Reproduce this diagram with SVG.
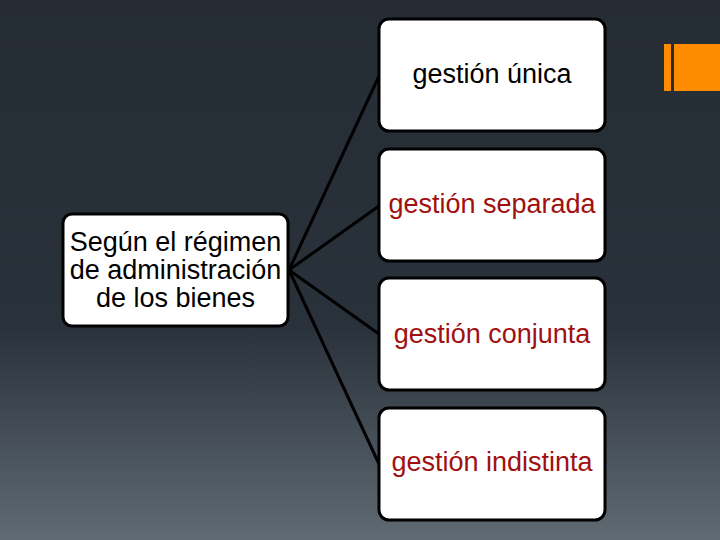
<svg xmlns="http://www.w3.org/2000/svg" width="720" height="540" viewBox="0 0 720 540">
<defs>
<linearGradient id="bg" x1="0" y1="0" x2="0" y2="1">
<stop offset="0" stop-color="#252c34"/>
<stop offset="0.6" stop-color="#29313a"/>
<stop offset="1" stop-color="#5f6a72"/>
</linearGradient>
<style>
.box{fill:#ffffff;stroke:#000000;stroke-width:3}
.t{font-family:"Liberation Sans",Arial,sans-serif;font-size:27px;text-anchor:middle;dominant-baseline:central}
.blk{fill:#000000}
.red{fill:#a01010}
.conn line{stroke:#000000;stroke-width:3}
</style>
</defs>
<rect width="720" height="540" fill="url(#bg)"/>
<rect x="664" y="44" width="7" height="47" fill="#ff8c00"/>
<rect x="674" y="44" width="46" height="47" fill="#ff8c00"/>
<g id="connectors" class="conn">
<line x1="289" y1="270" x2="379" y2="76"/>
<line x1="289" y1="270" x2="379" y2="206"/>
<line x1="289" y1="270" x2="379" y2="334"/>
<line x1="289" y1="270" x2="379" y2="464"/>
</g>
<g id="root">
<rect class="box" x="63" y="214" width="225" height="112" rx="9"/>
<text class="t blk" x="175.5" y="242">Según el régimen</text>
<text class="t blk" x="175.5" y="270">de administración</text>
<text class="t blk" x="175.5" y="298">de los bienes</text>
</g>
<g id="n1">
<rect class="box" x="379" y="19" width="226" height="112" rx="10"/>
<text class="t blk" x="492" y="74">gestión única</text>
</g>
<g id="n2">
<rect class="box" x="379" y="149" width="226" height="112" rx="10"/>
<text class="t red" x="492" y="204">gestión separada</text>
</g>
<g id="n3">
<rect class="box" x="379" y="278" width="226" height="112" rx="10"/>
<text class="t red" x="492" y="334">gestión conjunta</text>
</g>
<g id="n4">
<rect class="box" x="379" y="408" width="226" height="112" rx="10"/>
<text class="t red" x="492" y="462">gestión indistinta</text>
</g>
</svg>
